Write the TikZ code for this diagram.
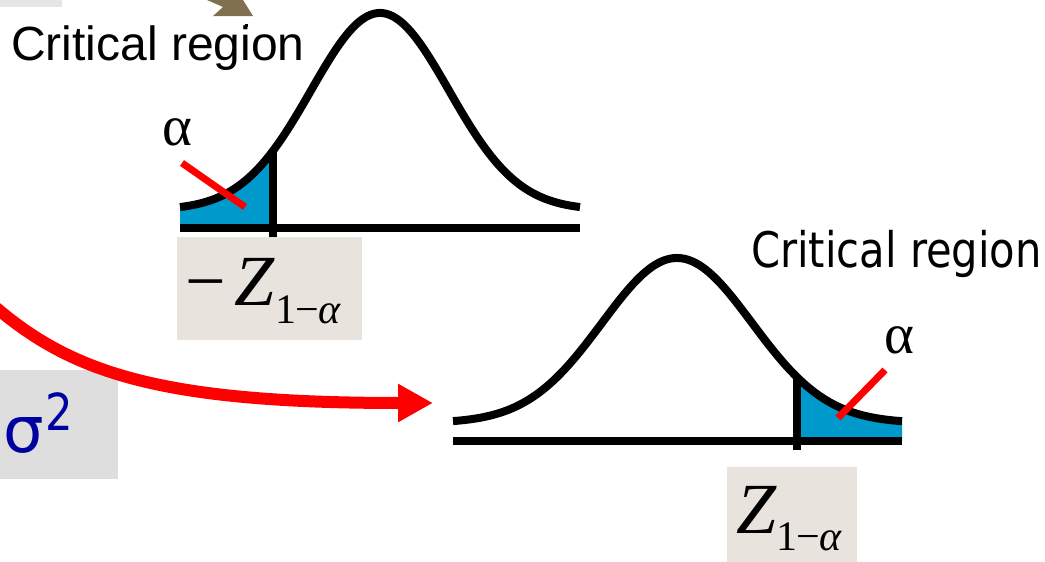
\documentclass[tikz,border=0pt]{standalone}
\usepackage{fontspec}
\setmainfont{Liberation Sans}
\newfontfamily\tmsfont{Liberation Serif}
\newfontfamily\thmfont[FakeStretch=0.85]{DejaVu Sans}
\newfontfamily\dvfont{DejaVu Sans}
\usetikzlibrary{arrows.meta}
\definecolor{tailblue}{RGB}{0,153,204}
\definecolor{arrowred}{RGB}{255,0,0}
\definecolor{zbeige}{RGB}{232,228,221}
\definecolor{sgray}{RGB}{222,222,222}
\definecolor{tgray}{RGB}{230,228,228}
\definecolor{arrowbrown}{RGB}{128,112,80}
\definecolor{sigblue}{RGB}{0,0,160}
\begin{document}
\begin{tikzpicture}[x=1pt,y=-1pt,
  curveline/.style={line width=8pt,line join=round},
  axisline/.style={line width=8pt},
  pointer/.style={arrowred,line width=7pt},
  bigarrow/.style={arrowred,line width=12pt,-{Triangle[length=35pt,width=36pt]}},
  labelbox/.style={inner sep=0pt,outer sep=0pt},
  alphalabel/.style={inner sep=0pt,anchor=base,font=\tmsfont\fontsize{57}{57}\selectfont},
  zlabel/.style={inner sep=0pt,anchor=base west,font=\tmsfont\fontsize{72}{72}\selectfont}]
\useasboundingbox (0,0) rectangle (1045,562);

% top-left remnants
\fill[tgray] (0,0) rectangle (62,7);
\fill[arrowbrown] (207,0) -- (223,7) -- (213,16) -- (253,16) -- (243,0) -- cycle;
\fill (245,24) rectangle (248,27);

% boxes
\node[labelbox,fill=zbeige,minimum width=185pt,minimum height=103pt] (zb1) at (269.5,288.5) {};
\node[labelbox,fill=zbeige,minimum width=130pt,minimum height=103pt] (zb2) at (792,518.5) {};
\node[labelbox,fill=sgray,minimum width=118pt,minimum height=109pt] (sb) at (59,424.5) {};

% labels
\node[zlabel] (zt1) at (185,305) {−\hspace{9pt}\textit{Z}\raisebox{-18pt}{\fontsize{42}{42}\selectfont 1\hspace{-1pt}−\hspace{-1pt}\textit{α}}};
\node[zlabel] (zt2) at (736,533) {\textit{Z}\raisebox{-17pt}{\fontsize{42}{42}\selectfont 1\hspace{-1pt}−\hspace{-1pt}\textit{α}}};
\node[inner sep=0pt,anchor=base west,text=sigblue,font=\dvfont\fontsize{64}{64}\selectfont] (sg) at (3,452) {σ\hspace{2pt}\raisebox{22pt}{\thmfont\fontsize{51}{51}\selectfont 2}};
\node[inner sep=0pt,anchor=base west,font=\fontsize{48}{48}\selectfont] (cr1) at (11,60) {Critical region};
\node[inner sep=0pt,anchor=base west,font=\thmfont\fontsize{49}{49}\selectfont] (cr2) at (751,267) {Critical region};
\node[alphalabel] (a1) at (177,145) {α};
\node[alphalabel] (a2) at (899,353) {α};

% red arrow
\coordinate (ra) at (-15,298);
\coordinate (rb) at (433,403);
\draw[bigarrow] (ra) .. controls (65,370) and (150,403) .. (rb);

% top distribution
\fill[tailblue] (180,228) -- plot[domain=180:273,samples=40] (\x,{210-197*exp(-((\x-380)/69)*((\x-380)/69)/2)}) -- (273,228) -- cycle;
\draw[curveline] plot[domain=180:580,samples=150] (\x,{210-197*exp(-((\x-380)/69)*((\x-380)/69)/2)});
\draw[axisline] (180,228) -- (580,228);
\draw[axisline] (273,150) -- (273,237);
\draw[pointer] (182,163) -- (245,207);

% bottom distribution
\fill[tailblue] (797,441) -- plot[domain=797:902,samples=40] (\x,{423-165*exp(-((\x-677)/75)*((\x-677)/75)/2)}) -- (902,441) -- cycle;
\draw[curveline] plot[domain=453:902,samples=150] (\x,{423-165*exp(-((\x-677)/75)*((\x-677)/75)/2)});
\draw[axisline] (453,441) -- (902,441);
\draw[axisline] (797,377) -- (797,450);
\draw[pointer] (885,370) -- (838,418);
\end{tikzpicture}
\end{document}
